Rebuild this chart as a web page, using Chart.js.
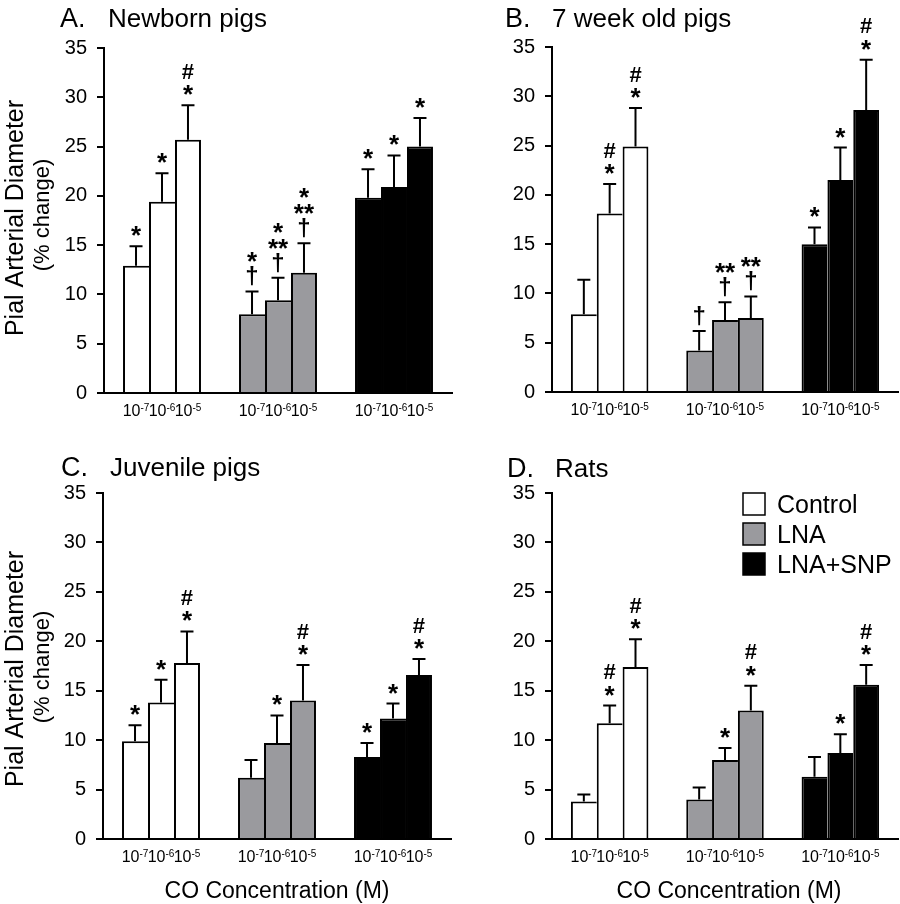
<!DOCTYPE html>
<html>
<head>
<meta charset="utf-8">
<title>Pial arterial diameter - CO</title>
<script src="https://cdn.jsdelivr.net/npm/chart.js@4.4.1/dist/chart.umd.min.js"></script>
<style>
    html, body { margin: 0; padding: 0; background: #fff; }
    #wrap { position: relative; width: 900px; height: 904px; overflow: hidden; background: #fff; }
    #wrap canvas { position: absolute; }
</style>
</head>
<body>
<div id="wrap"></div>
<script>
// groups (x categories) and the three CO concentrations inside each group
const groupNames = ['Control', 'LNA', 'LNA+SNP'];
const groupColors = ['#ffffff', '#9a9a9e', '#000000'];
const concBase = '10';
const concExponents = ['-7', '-6', '-5'];

// values in order: Control 1e-7, 1e-6, 1e-5 | LNA ... | LNA+SNP ...
const newbornMean = [12.9, 19.4, 25.7, 8.0, 9.4, 12.2, 19.8, 20.9, 25.0];
const newbornSem  = [2.0, 2.9, 3.5, 2.3, 2.3, 3.0, 2.9, 3.2, 2.9];
const newbornMarks = [['*'], ['*'], ['#', '*'], ['*', '†'], ['*', '**', '†'], ['*', '**', '†'], ['*'], ['*'], ['*']];

const weekMean = [7.9, 18.1, 24.9, 4.2, 7.3, 7.5, 15.0, 21.5, 28.6];
const weekSem  = [3.5, 3.0, 3.9, 2.0, 1.8, 2.2, 1.7, 3.3, 5.1];
const weekMarks = [[], ['#', '*'], ['#', '*'], ['†'], ['**', '†'], ['**', '†'], ['*'], ['*'], ['#', '*']];

const juvenileMean = [9.9, 13.8, 17.8, 6.2, 9.7, 14.0, 8.3, 12.2, 16.6];
const juvenileSem  = [1.6, 2.3, 3.2, 1.8, 2.8, 3.6, 1.4, 1.5, 1.6];
const juvenileMarks = [['*'], ['*'], ['#', '*'], [], ['*'], ['#', '*'], ['*'], ['*'], ['#', '*']];

const ratMean = [3.8, 11.7, 17.4, 4.0, 8.0, 13.0, 6.3, 8.7, 15.6];
const ratSem  = [0.7, 1.8, 2.8, 1.2, 1.2, 2.5, 2.0, 1.9, 2.0];
const ratMarks = [[], ['#', '*'], ['#', '*'], [], ['*'], ['#', '*'], [], ['*'], ['#', '*']];

const yMin = 0;
const yMax = 35;
const yStep = 5;

const FONT = "'Liberation Sans', Arial, Helvetica, sans-serif";
const markFonts = {
    '*': 'bold 26px ' + FONT,
    '**': 'bold 26px ' + FONT,
    '#': 'bold 22px ' + FONT,
    '†': 'bold 24px ' + FONT
};

// panel layout (page pixels)
const panels = [
    { letter: 'A.', title: 'Newborn pigs', mean: newbornMean, sem: newbornSem, marks: newbornMarks,
      box: { left: 0, top: 0, width: 460, height: 440 }, area: { left: 104, top: 48, right: 452, bottom: 393 },
      letterX: 60, titleX: 108, titleY: 27, yTitle: { main: 218, sub: 215 } },
    { letter: 'B.', title: '7 week old pigs', mean: weekMean, sem: weekSem, marks: weekMarks,
      box: { left: 448, top: 0, width: 452, height: 440 }, area: { left: 552, top: 47, right: 898, bottom: 392 },
      letterX: 505, titleX: 552, titleY: 27 },
    { letter: 'C.', title: 'Juvenile pigs', mean: juvenileMean, sem: juvenileSem, marks: juvenileMarks,
      box: { left: 0, top: 440, width: 460, height: 464 }, area: { left: 103, top: 493, right: 451, bottom: 839 },
      letterX: 61, titleX: 110, titleY: 476, yTitle: { main: 669, sub: 667 }, xTitle: 277 },
    { letter: 'D.', title: 'Rats', mean: ratMean, sem: ratSem, marks: ratMarks,
      box: { left: 448, top: 440, width: 452, height: 464 }, area: { left: 552, top: 493, right: 898, bottom: 839 },
      letterX: 507, titleX: 555, titleY: 477, xTitle: 729, legend: true }
];

/**
 * Stacked significance symbols above an error bar
 */
function drawMarks(ctx, marks, x, errTop) {
    let cy = errTop - 15;
    ctx.textAlign = 'center';
    ctx.textBaseline = 'alphabetic';
    for (let m = marks.length - 1; m >= 0; m--) {
        const s = marks[m];
        ctx.font = markFonts[s];
        const mt = ctx.measureText(s);
        const base = cy + (mt.actualBoundingBoxAscent - mt.actualBoundingBoxDescent) / 2;
        ctx.fillText(s, x, base);
        cy -= (s === '**') ? 16 : 19;
    }
}

/**
 * "10" with a superscript exponent, centred on x
 */
function drawPower(ctx, x, y, exp) {
    ctx.textAlign = 'left';
    ctx.textBaseline = 'alphabetic';
    ctx.font = '16px ' + FONT;
    const w1 = ctx.measureText(concBase).width;
    ctx.font = '10px ' + FONT;
    const w2 = ctx.measureText(exp).width;
    const x0 = x - (w1 + w2) / 2;
    ctx.font = '16px ' + FONT;
    ctx.fillText(concBase, x0, y);
    ctx.font = '10px ' + FONT;
    ctx.fillText(exp, x0 + w1, y - 5);
}

function makePanelPlugin(p) {
    return {
        id: 'panelExtras',
        afterDatasetsDraw(chart) {
            const ctx = chart.ctx;
            const yScale = chart.scales.y;
            ctx.save();
            ctx.strokeStyle = '#000';
            ctx.fillStyle = '#000';
            ctx.lineWidth = 2;

            chart.data.datasets.forEach((ds, k) => {
                const meta = chart.getDatasetMeta(k);
                meta.data.forEach((bar, g) => {
                    const i = g * 3 + k;
                    const top = yScale.getPixelForValue(p.mean[i] + p.sem[i]);
                    ctx.beginPath();
                    ctx.moveTo(bar.x, bar.y);
                    ctx.lineTo(bar.x, top);
                    ctx.moveTo(bar.x - 6.5, top);
                    ctx.lineTo(bar.x + 6.5, top);
                    ctx.stroke();
                    drawMarks(ctx, p.marks[i], bar.x, top);
                    drawPower(ctx, bar.x, chart.chartArea.bottom + 23, concExponents[k]);
                });
            });
            ctx.restore();
        },
        afterDraw(chart) {
            const ctx = chart.ctx;
            const ox = p.box.left;
            const oy = p.box.top;
            ctx.save();
            ctx.fillStyle = '#000';
            ctx.textBaseline = 'alphabetic';
            ctx.textAlign = 'left';

            // panel title
            ctx.font = '27px ' + FONT;
            ctx.fillText(p.letter, p.letterX - ox, p.titleY - oy);
            ctx.font = '26px ' + FONT;
            ctx.fillText(p.title, p.titleX - ox, p.titleY - oy);

            // y axis title
            if (p.yTitle) {
                ctx.textAlign = 'center';
                ctx.save();
                ctx.translate(23 - ox, p.yTitle.main - oy);
                ctx.rotate(-Math.PI / 2);
                ctx.font = '25px ' + FONT;
                ctx.fillText('Pial Arterial Diameter', 0, 0);
                ctx.restore();
                ctx.save();
                ctx.translate(49 - ox, p.yTitle.sub - oy);
                ctx.rotate(-Math.PI / 2);
                ctx.font = '22px ' + FONT;
                ctx.fillText('(% change)', 0, 0);
                ctx.restore();
            }

            // x axis title
            if (p.xTitle) {
                ctx.textAlign = 'center';
                ctx.font = '23px ' + FONT;
                ctx.fillText('CO Concentration (M)', p.xTitle - ox, 898 - oy);
            }

            // legend
            if (p.legend) {
                ctx.textAlign = 'left';
                ctx.font = '25px ' + FONT;
                groupNames.forEach((name, g) => {
                    const by = 493 + g * 30 - oy;
                    ctx.fillStyle = groupColors[g];
                    ctx.fillRect(743 - ox, by, 22, 22);
                    ctx.strokeStyle = '#000';
                    ctx.lineWidth = 1.5;
                    ctx.strokeRect(743 - ox, by, 22, 22);
                    ctx.fillStyle = '#000';
                    ctx.fillText(name, 777 - ox, by + 20);
                });
            }
            ctx.restore();
        }
    };
}

function buildPanel(p) {
    const canvas = document.createElement('canvas');
    canvas.width = p.box.width;
    canvas.height = p.box.height;
    canvas.style.left = p.box.left + 'px';
    canvas.style.top = p.box.top + 'px';
    canvas.style.width = p.box.width + 'px';
    canvas.style.height = p.box.height + 'px';
    document.getElementById('wrap').appendChild(canvas);

    const yWidth = p.area.left - p.box.left;
    const xHeight = p.box.top + p.box.height - p.area.bottom;

    // one dataset per concentration, one category per treatment group
    const datasets = concExponents.map((exp, k) => ({
        label: concBase + exp,
        data: groupNames.map((name, g) => p.mean[g * 3 + k]),
        backgroundColor: groupColors,
        borderColor: '#000',
        borderWidth: k === 2 ? { top: 2, left: 2, right: 2, bottom: 0 } : { top: 2, left: 2, right: 0, bottom: 0 },
        borderSkipped: 'start',
        categoryPercentage: 0.672,
        barPercentage: 1.0
    }));

    return new Chart(canvas, {
        type: 'bar',
        data: { labels: groupNames, datasets: datasets },
        options: {
            responsive: false,
            animation: false,
            devicePixelRatio: 1,
            events: [],
            layout: {
                padding: {
                    top: p.area.top - p.box.top,
                    right: p.box.left + p.box.width - p.area.right,
                    left: 0,
                    bottom: 0
                }
            },
            plugins: {
                legend: { display: false },
                tooltip: { enabled: false },
                title: { display: false }
            },
            scales: {
                x: {
                    type: 'category',
                    z: 1,
                    ticks: { display: false },
                    grid: { display: false },
                    border: { display: true, color: '#000', width: 2 },
                    afterFit: function(scale) { scale.height = xHeight; }
                },
                y: {
                    min: yMin,
                    max: yMax,
                    z: 1,
                    ticks: {
                        stepSize: yStep,
                        padding: 10,
                        color: '#000',
                        font: { family: FONT, size: 20 }
                    },
                    grid: {
                        display: true,
                        drawOnChartArea: false,
                        drawTicks: true,
                        tickLength: 7,
                        color: '#000',
                        lineWidth: 2
                    },
                    border: { display: true, color: '#000', width: 2 },
                    afterFit: function(scale) { scale.width = yWidth; }
                }
            }
        },
        plugins: [makePanelPlugin(p)]
    });
}

panels.forEach(buildPanel);
</script>
</body>
</html>
